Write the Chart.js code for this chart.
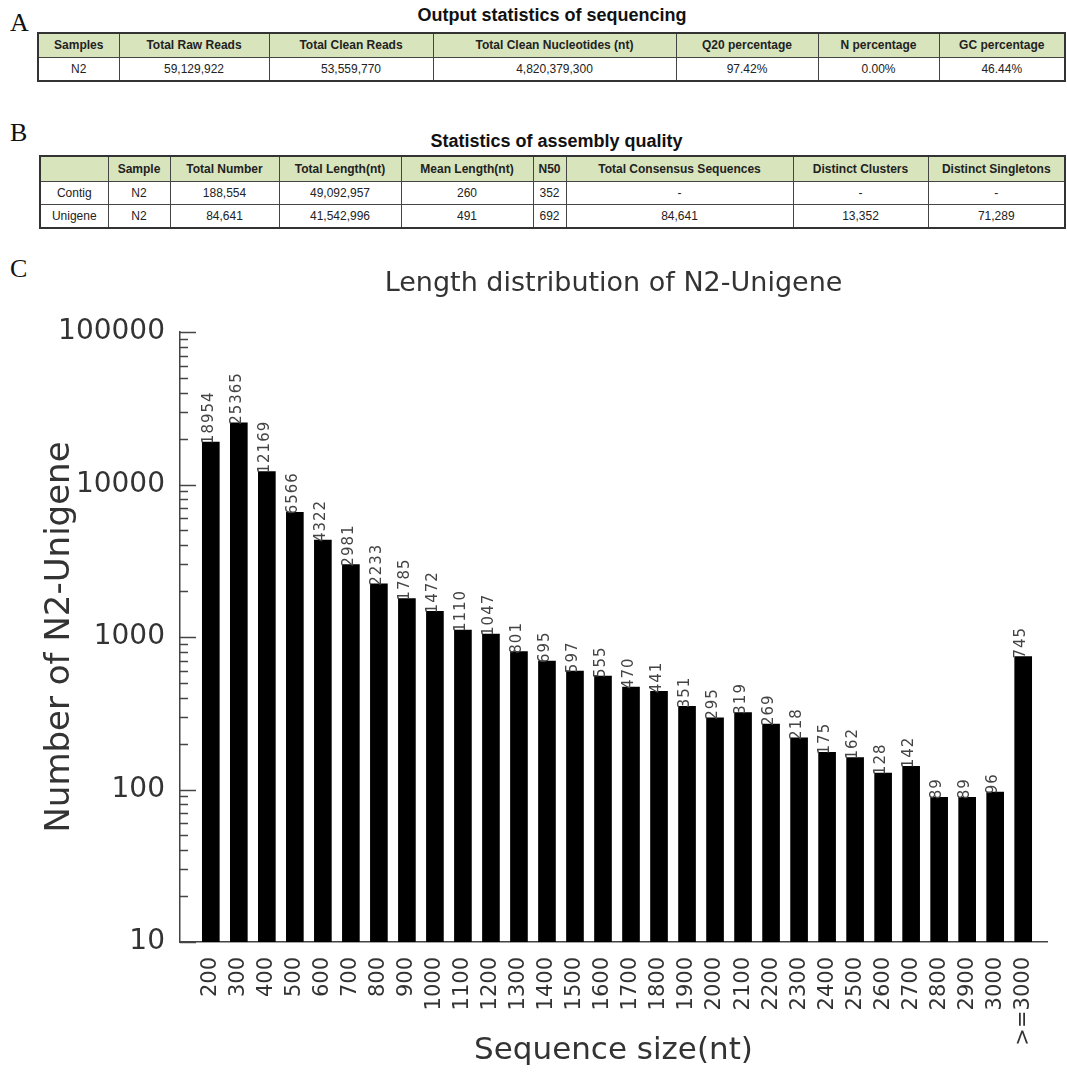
<!DOCTYPE html>
<html>
<head>
<meta charset="utf-8">
<script src="https://cdn.jsdelivr.net/npm/chart.js@4/dist/chart.umd.min.js"></script>
<style>
	body { margin: 0; background: #fff; width: 1067px; height: 1075px; position: relative; overflow: hidden; }
	.panel { position: absolute; font-family: "Liberation Serif", serif; font-size: 26px; color: #111; }
	.caption { position: absolute; font-family: "Liberation Sans", Arial, sans-serif; font-weight: bold; font-size: 18px; color: #111; text-align: center; }
	table { position: absolute; border-collapse: collapse; table-layout: fixed; border: 2px solid #333;
		font-family: "Liberation Sans", Arial, sans-serif; font-size: 12px; color: #222; }
	td, th { border: 1px solid #444; text-align: center; padding: 0; white-space: nowrap; overflow: hidden; }
	th { background: #d8e4bc; font-weight: bold; }
	#chart { position: absolute; left: 0; top: 245px; }
</style>
</head>
<body>
<div class="panel" style="left:10px; top:8px;">A</div>
<div class="caption" style="left:37px; top:5px; width:1030px;">Output statistics of sequencing</div>
<table id="tableA" style="left:37px; top:32px; width:1027px;"></table>

<div class="panel" style="left:10px; top:118px;">B</div>
<div class="caption" style="left:39px; top:131px; width:1035px;">Statistics of assembly quality</div>
<table id="tableB" style="left:39px; top:155px; width:1025px;"></table>

<div class="panel" style="left:10px; top:254px;">C</div>
<canvas id="chart" width="1067" height="830"></canvas>

<script>
// таблица A
const outHeaders = ['Samples', 'Total Raw Reads', 'Total Clean Reads', 'Total Clean Nucleotides (nt)', 'Q20 percentage', 'N percentage', 'GC percentage'];
const outRow = ['N2', '59,129,922', '53,559,770', '4,820,379,300', '97.42%', '0.00%', '46.44%'];
const outWidths = [81, 150, 164, 243, 142, 121, 126];

// таблица B
const asmHeaders = ['', 'Sample', 'Total Number', 'Total Length(nt)', 'Mean Length(nt)', 'N50', 'Total Consensus Sequences', 'Distinct Clusters', 'Distinct Singletons'];
const asmContig = ['Contig', 'N2', '188,554', '49,092,957', '260', '352', '-', '-', '-'];
const asmUnigene = ['Unigene', 'N2', '84,641', '41,542,996', '491', '692', '84,641', '13,352', '71,289'];
const asmWidths = [68, 62, 109, 122, 132, 33, 227, 135, 137];

// график C
const sizeLabels = ['200', '300', '400', '500', '600', '700', '800', '900', '1000', '1100', '1200', '1300', '1400', '1500',
	'1600', '1700', '1800', '1900', '2000', '2100', '2200', '2300', '2400', '2500', '2600', '2700', '2800', '2900', '3000', '>=3000'];
const unigeneCounts = [18954, 25365, 12169, 6566, 4322, 2981, 2233, 1785, 1472, 1110, 1047, 801, 695, 597,
	555, 470, 441, 351, 295, 319, 269, 218, 175, 162, 128, 142, 89, 89, 96, 745];

function buildTable(el, widths, headers, rows, heights) {
	let html = '<colgroup>' + widths.map(w => '<col style="width:' + w + 'px">').join('') + '</colgroup>';
	html += '<tr style="height:' + heights[0] + 'px">' + headers.map(h => '<th>' + h + '</th>').join('') + '</tr>';
	rows.forEach((r, i) => {
		html += '<tr style="height:' + heights[i + 1] + 'px">' + r.map(c => '<td>' + c + '</td>').join('') + '</tr>';
	});
	el.innerHTML = html;
}

buildTable(document.getElementById('tableA'), outWidths, outHeaders, [outRow], [24, 24]);
buildTable(document.getElementById('tableB'), asmWidths, asmHeaders, [asmContig, asmUnigene], [25, 23, 24]);

const isPow10 = (v) => Math.abs(Math.log10(v) - Math.round(Math.log10(v))) < 1e-9;

// засечки на оси Y внутрь графика
const innerTicks = {
	id: 'innerTicks',
	afterDraw(chart) {
		const ctx = chart.ctx;
		const y = chart.scales.y;
		const x0 = chart.chartArea.left;
		ctx.save();
		ctx.strokeStyle = '#444';
		ctx.lineWidth = 1.5;
		y.ticks.forEach((t) => {
			const py = Math.round(y.getPixelForValue(t.value)) + 0.5;
			const len = isPow10(t.value) ? 16 : 8;
			ctx.beginPath();
			ctx.moveTo(x0, py);
			ctx.lineTo(x0 + len, py);
			ctx.stroke();
		});
		ctx.restore();
	}
};

// подписи значений над столбцами
const barValues = {
	id: 'barValues',
	afterDatasetsDraw(chart) {
		const ctx = chart.ctx;
		const meta = chart.getDatasetMeta(0);
		ctx.save();
		ctx.fillStyle = '#444';
		ctx.font = '15px "DejaVu Sans"';
		ctx.letterSpacing = '1px';
		ctx.textAlign = 'left';
		ctx.textBaseline = 'middle';
		meta.data.forEach((bar, i) => {
			ctx.save();
			ctx.translate(bar.x - 2, bar.y + 2);
			ctx.rotate(-Math.PI / 2);
			ctx.fillText(String(unigeneCounts[i]), 0, 0);
			ctx.restore();
		});
		ctx.restore();
	}
};

const ctx = document.getElementById('chart').getContext('2d');

new Chart(ctx, {
	type: 'bar',
	data: {
		datasets: [{
			data: unigeneCounts.map((v, i) => ({ x: i, y: v })),
			backgroundColor: '#000',
			borderWidth: 0,
			barThickness: 17
		}]
	},
	options: {
		responsive: false,
		animation: false,
		layout: { padding: { left: 0, right: 20, top: 0, bottom: 0 } },
		plugins: {
			legend: { display: false },
			tooltip: { enabled: false },
			title: {
				display: true,
				fullSize: false,
				text: 'Length distribution of N2-Unigene',
				color: '#333',
				font: { family: 'DejaVu Sans', size: 27, weight: 'normal', lineHeight: 1.2 },
				padding: { top: 23, bottom: 31.6 }
			}
		},
		scales: {
			x: {
				type: 'linear',
				min: -1.1,
				max: 29.85,
				offset: false,
				afterBuildTicks: (scale) => {
					scale.ticks = sizeLabels.map((l, i) => ({ value: i }));
				},
				afterFit: (scale) => { scale.height = 133; },
				grid: { display: false, drawTicks: false },
				border: { display: true, color: '#444', width: 1.5 },
				ticks: {
					autoSkip: false,
					minRotation: 90,
					maxRotation: 90,
					padding: 15,
					color: '#333',
					font: { family: 'DejaVu Sans', size: 21 },
					callback: (v) => sizeLabels[v]
				},
				title: {
					display: true,
					text: 'Sequence size(nt)',
					color: '#333',
					font: { family: 'DejaVu Sans', size: 31, lineHeight: 1.2 },
					padding: { top: 0, bottom: 5 }
				}
			},
			y: {
				type: 'logarithmic',
				min: 10,
				max: 100000,
				afterBuildTicks: (scale) => {
					const ticks = [];
					for (let e = 1; e <= 4; e++) {
						for (let m = 1; m <= 9; m++) ticks.push({ value: m * Math.pow(10, e) });
					}
					ticks.push({ value: 100000 });
					scale.ticks = ticks;
				},
				afterFit: (scale) => { scale.width = 180; },
				grid: { display: false, drawTicks: false },
				border: { display: true, color: '#444', width: 1.5 },
				ticks: {
					autoSkip: false,
					padding: 15,
					color: '#333',
					font: { family: 'DejaVu Sans', size: 28 },
					callback: (v) => isPow10(v) ? String(v) : ''
				},
				title: {
					display: true,
					text: 'Number of N2-Unigene',
					color: '#333',
					font: { family: 'DejaVu Sans', size: 34, lineHeight: 1.2 },
					padding: { top: 39.6, bottom: 0 }
				}
			}
		}
	},
	plugins: [innerTicks, barValues]
});
</script>
</body>
</html>
